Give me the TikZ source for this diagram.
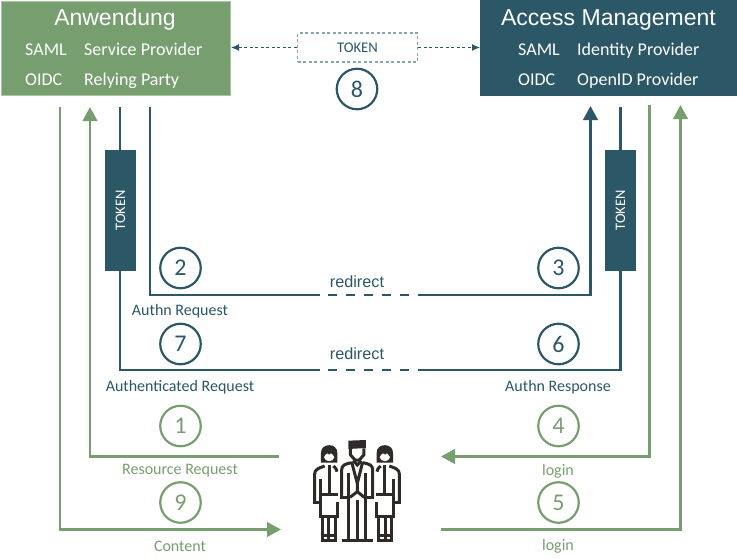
\documentclass[tikz,border=0pt]{standalone}
\usepackage{fontspec}
\setmainfont{Carlito}
\newfontfamily\headfont{Liberation Sans}
\usetikzlibrary{arrows.meta}
\definecolor{grn}{HTML}{779E6F}
\definecolor{grnedge}{HTML}{A9C4A3}
\definecolor{teal}{HTML}{2B5766}
\definecolor{dashbox}{HTML}{8AA5AE}
\definecolor{ink}{HTML}{2E2A28}
\tikzset{
  flowg/.style={draw=grn,line width=2.5pt,-{Triangle[length=14pt,width=14.5pt]}},
  flowt/.style={draw=teal,line width=2.5pt,-{Triangle[length=14pt,width=14.5pt]}},
  flowtp/.style={draw=teal,line width=2.5pt},
  gapdash/.style={draw=teal,line width=2.5pt,dash pattern=on 9pt off 9pt},
  numt/.style={circle,draw=teal,line width=2.2pt,minimum size=40.5pt,inner sep=0pt,text=teal,font=\fontsize{24}{24}\selectfont},
  numg/.style={circle,draw=grn,line width=2.2pt,minimum size=40.5pt,inner sep=0pt,text=grn,font=\fontsize{24}{24}\selectfont},
  labt/.style={text=teal,inner sep=0pt,font=\fontsize{16}{16}\selectfont},
  labg/.style={text=grn,inner sep=0pt,font=\fontsize{16}{16}\selectfont},
  redir/.style={text=teal,inner sep=0pt,font=\headfont\fontsize{16.2}{16}\selectfont},
  title/.style={text=white,inner sep=0pt,font=\headfont\fontsize{23}{24}\selectfont},
  row/.style={text=white,anchor=base west,inner sep=0pt,font=\fontsize{18}{20}\selectfont},
  tokenbar/.style={fill=teal,minimum width=31pt,minimum height=121pt,inner sep=0pt,
    text=white,font=\fontsize{14.5}{14}\selectfont},
  tokenbox/.style={draw=dashbox,line width=1.7pt,dash pattern=on 3pt off 2.5pt,fill=white,
    minimum width=120pt,minimum height=29pt,inner sep=0pt,text=teal,font=\fontsize{14.7}{14}\selectfont},
  dashline/.style={draw=teal,line width=1.1pt,dash pattern=on 3pt off 2.5pt,-{Latex[length=8pt,width=7pt]}},
  ic/.style={draw=ink,line width=3pt,line join=miter}
}
\newcommand{\drawwoman}{%
    \fill[ink] (93,128) -- (93,98) .. controls (93,68) and (142,68) .. (142,98) -- (142,128) -- cycle;
    \fill[white] (102,112) .. controls (108,100) and (112,97) .. (117,105)
      .. controls (122,97) and (127,100) .. (133,112)
      .. controls (130,127) and (105,127) .. (102,112) -- cycle;
    \draw[ic] (74,245) -- (74,162) .. controls (74,148) and (85,145) .. (104,138);
    \draw[ic] (130,138) .. controls (138,145) and (140,148) .. (141,155);
    \draw[ic] (69,246) -- (91,246);
    \draw[ic] (91,246) -- (91,178);
    \draw[ic] (118,135) -- (118,222);
    \draw[ic] (91,222) -- (143,222);
    \draw[ic] (91,246) -- (91,291) -- (143,291) -- (143,246);
    \draw[ic] (97,291) -- (97,362) -- (138,362) -- (138,291);
    \draw[ic] (117,291) -- (117,362);
    \draw[ic] (97,348) -- (138,348);
}
\begin{document}
\begin{tikzpicture}[x=1pt,y=-1pt]
\useasboundingbox (0,0) rectangle (737,558);

% boxes
\node[draw=grnedge,fill=grn,line width=1pt,minimum width=229.5pt,minimum height=94.5pt,inner sep=0pt,anchor=north west] (app) at (0.5,0.5) {};
\node[fill=teal,minimum width=257pt,minimum height=96pt,inner sep=0pt,anchor=north west] (am) at (480,0) {};
\node[title] (apptitle) at (115,20) {Anwendung};
\node[row] (s1) at (25,55.5) {SAML};
\node[row] (s2) at (84,55.5) {Service Provider};
\node[row] (o1) at (25,85.5) {OIDC};
\node[row] (o2) at (84,85.5) {Relying Party};
\node[title] (amtitle) at (608.5,20) {Access Management};
\node[row] (s3) at (518,55.5) {SAML};
\node[row] (s4) at (577,55.5) {Identity Provider};
\node[row] (o3) at (518,85.5) {OIDC};
\node[row] (o4) at (577,85.5) {OpenID Provider};

% top token
\node[tokenbox] (tok) at (357.5,47.5) {TOKEN};
\draw[dashline] (tok.west |- 0,47.5) -- (app.east |- 0,47.5);
\draw[dashline] (tok.east |- 0,47.5) -- (am.west |- 0,47.5);
\node[numt] (n8) at (357,89) {8};

% free ends
\coordinate (a1) at (60,107);
\coordinate (a2) at (60,529.5);
\coordinate (a3) at (281,529.5);
\coordinate (b1) at (90,107);
\coordinate (b2) at (90,456.5);
\coordinate (b3) at (278.5,456.5);
\coordinate (c1) at (120,107);
\coordinate (c2) at (120,370);
\coordinate (c3) at (320,370);
\coordinate (c3b) at (328,370);
\coordinate (c3c) at (409,370);
\coordinate (c4) at (418,370);
\coordinate (c5) at (620.5,370);
\coordinate (c6) at (620.5,107);
\coordinate (d1) at (150,107);
\coordinate (d2) at (150,295);
\coordinate (d3) at (320,295);
\coordinate (d3b) at (328,295);
\coordinate (d3c) at (409,295);
\coordinate (d4) at (418,295);
\coordinate (d5) at (590.5,295);
\coordinate (d6) at (590.5,106);
\coordinate (e1) at (649.5,105);
\coordinate (e2) at (649.5,456.5);
\coordinate (e3) at (441,456.5);
\coordinate (f1) at (680.5,105);
\coordinate (f2) at (680.5,529.5);
\coordinate (f3) at (441,529.5);

\draw[flowg] (a1) -- (a2) -- (a3);
\draw[flowg] (b3) -- (b2) -- (b1);
\draw[flowtp] (c1) -- (c2) -- (c3);
\draw[gapdash] (c3b) -- (c3c);
\draw[flowtp] (c4) -- (c5) -- (c6);
\draw[flowtp] (d1) -- (d2) -- (d3);
\draw[gapdash] (d3b) -- (d3c);
\draw[flowt] (d4) -- (d5) -- (d6);
\draw[flowg] (e1) -- (e2) -- (e3);
\draw[flowg] (f3) -- (f2) -- (f1);

% token bars
\node[tokenbar] (tl) at (120.5,210.5) {\rotatebox{90}{TOKEN}};
\node[tokenbar] (tr) at (620.5,210.5) {\rotatebox{90}{TOKEN}};

% numbers
\node[numt] (n2) at (180.5,268) {2};
\node[numt] (n3) at (558.5,268) {3};
\node[numt] (n7) at (180.5,344) {7};
\node[numt] (n6) at (558.5,344) {6};
\node[numg] (n1) at (180.5,426) {1};
\node[numg] (n4) at (558.5,426) {4};
\node[numg] (n9) at (180.5,502.5) {9};
\node[numg] (n5) at (558.5,502.5) {5};

% labels
\node[labt] (l2) at (180,311) {Authn Request};
\node[labt] (l7) at (180,387) {Authenticated Request};
\node[labg] (l1) at (180,471) {Resource Request};
\node[labg] (l9) at (180,546) {Content};
\node[labt] (l6) at (558,387) {Authn Response};
\node[labg] (l4) at (558,471) {login};
\node[labg] (l5) at (558,546) {login};
\node[redir] (r1) at (357,282) {redirect};
\node[redir] (r2) at (357,354) {redirect};

% people
\begin{scope}[shift={(290,420)},x=0.3333pt,y=-0.3333pt]
  \drawwoman
  % man
  \fill[ink] (175,62) -- (228,60) -- (228,84) -- (175,87) -- cycle;
  \draw[ic] (181,85) -- (181,104) -- (195,120) -- (208,120) -- (222,104) -- (222,85);
  \draw[ic] (155,232) -- (155,150) .. controls (155,135) and (165,132) .. (185,128);
  \draw[ic] (248,232) -- (248,150) .. controls (248,135) and (238,132) .. (218,128);
  \draw[ic] (150,232) -- (176,232) -- (176,160);
  \draw[ic] (253,232) -- (227,232) -- (227,160);
  \draw[ic] (185,126) -- (202,190) -- (218,126);
  \draw[ic] (190,122) -- (202,135) -- (214,122);
  \draw[ic] (202,190) -- (202,215) -- (180,232);
  \draw[ic] (202,215) -- (223,232);
  \draw[ic] (176,232) -- (176,362);
  \draw[ic] (227,232) -- (227,362);
  \draw[ic] (202,240) -- (202,362);
  \draw[ic] (155,362) -- (248,362);
\end{scope}
\begin{scope}[shift={(424,420)},x=-0.3333pt,y=-0.3333pt]
  \drawwoman
\end{scope}
\end{tikzpicture}
\end{document}
